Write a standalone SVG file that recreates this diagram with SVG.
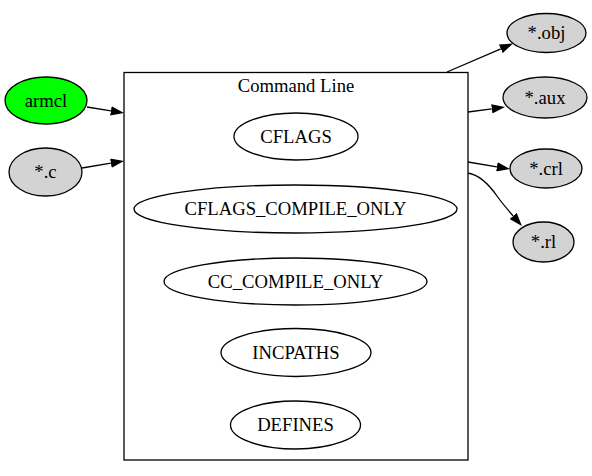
<svg xmlns="http://www.w3.org/2000/svg" width="592" height="476" viewBox="0 0 592 476">
<style>
text{font-family:'Liberation Serif',Tinos,'Times New Roman','DejaVu Serif',serif;font-size:18.67px;text-anchor:middle;fill:#000}
.n{stroke:#000;stroke-width:1.3}
.g{fill:#d3d3d3}
.w{fill:#fff}
.e{fill:none;stroke:#000;stroke-width:1.3}
</style>
<defs>
<marker id="ah" markerUnits="userSpaceOnUse" viewBox="0 0 13.3 9.4" refX="0" refY="4.7" markerWidth="13.3" markerHeight="9.4" orient="auto">
<path d="M0,0 L13.3,4.7 L0,9.4 Z" fill="#000"/>
</marker>
</defs>
<rect width="592" height="476" fill="#fff"/>
<g id="cluster_cmdline">
<rect x="124" y="72.5" width="344" height="387.5" fill="none" stroke="#000" stroke-width="1.3"/>
<text x="296" y="92" font-family="Liberation Serif, serif">Command Line</text>
</g>
<g id="armcl"><ellipse class="n" cx="46" cy="100.5" rx="41" ry="23.5" fill="#00ff00"/><text x="46" y="106.5">armcl</text></g>
<g id="src_c"><ellipse class="n g" cx="45.5" cy="172" rx="36.5" ry="24"/><text x="45.5" y="178">*.c</text></g>
<g id="cflags"><ellipse class="n w" cx="296" cy="136.5" rx="62" ry="23.5"/><text x="296" y="142.5">CFLAGS</text></g>
<g id="cflags_compile_only"><ellipse class="n w" cx="295.5" cy="209" rx="161.5" ry="24"/><text x="295.5" y="215">CFLAGS_COMPILE_ONLY</text></g>
<g id="cc_compile_only"><ellipse class="n w" cx="295.5" cy="281.5" rx="131.5" ry="23.5"/><text x="295.5" y="287.5">CC_COMPILE_ONLY</text></g>
<g id="incpaths"><ellipse class="n w" cx="296" cy="352.5" rx="75" ry="24"/><text x="296" y="358.5">INCPATHS</text></g>
<g id="defines"><ellipse class="n w" cx="295.5" cy="425" rx="65" ry="24"/><text x="295.5" y="431">DEFINES</text></g>
<g id="obj"><ellipse class="n g" cx="546.5" cy="33" rx="39.5" ry="19.5"/><text x="546.5" y="39">*.obj</text></g>
<g id="aux"><ellipse class="n g" cx="545" cy="97.5" rx="42" ry="20.5"/><text x="545" y="103.5">*.aux</text></g>
<g id="crl"><ellipse class="n g" cx="546" cy="168.5" rx="36" ry="19.5"/><text x="546" y="174.5">*.crl</text></g>
<g id="rl"><ellipse class="n g" cx="543.5" cy="242" rx="30.5" ry="20"/><text x="543.5" y="248">*.rl</text></g>
<g id="edges">
<path class="e" marker-end="url(#ah)" d="M87,107 L110.9,110.9"/>
<path class="e" marker-end="url(#ah)" d="M82,168 L110.9,163.2"/>
<path class="e" marker-end="url(#ah)" d="M447,72 L500.8,48.8"/>
<path class="e" marker-end="url(#ah)" d="M468,112 L491.8,108.8"/>
<path class="e" marker-end="url(#ah)" d="M468,162 L496.9,166.8"/>
<path class="e" marker-end="url(#ah)" d="M468,173 C480,175 490,186 497,196 C502,203 508,210 513.2,216"/>
</g>
</svg>
